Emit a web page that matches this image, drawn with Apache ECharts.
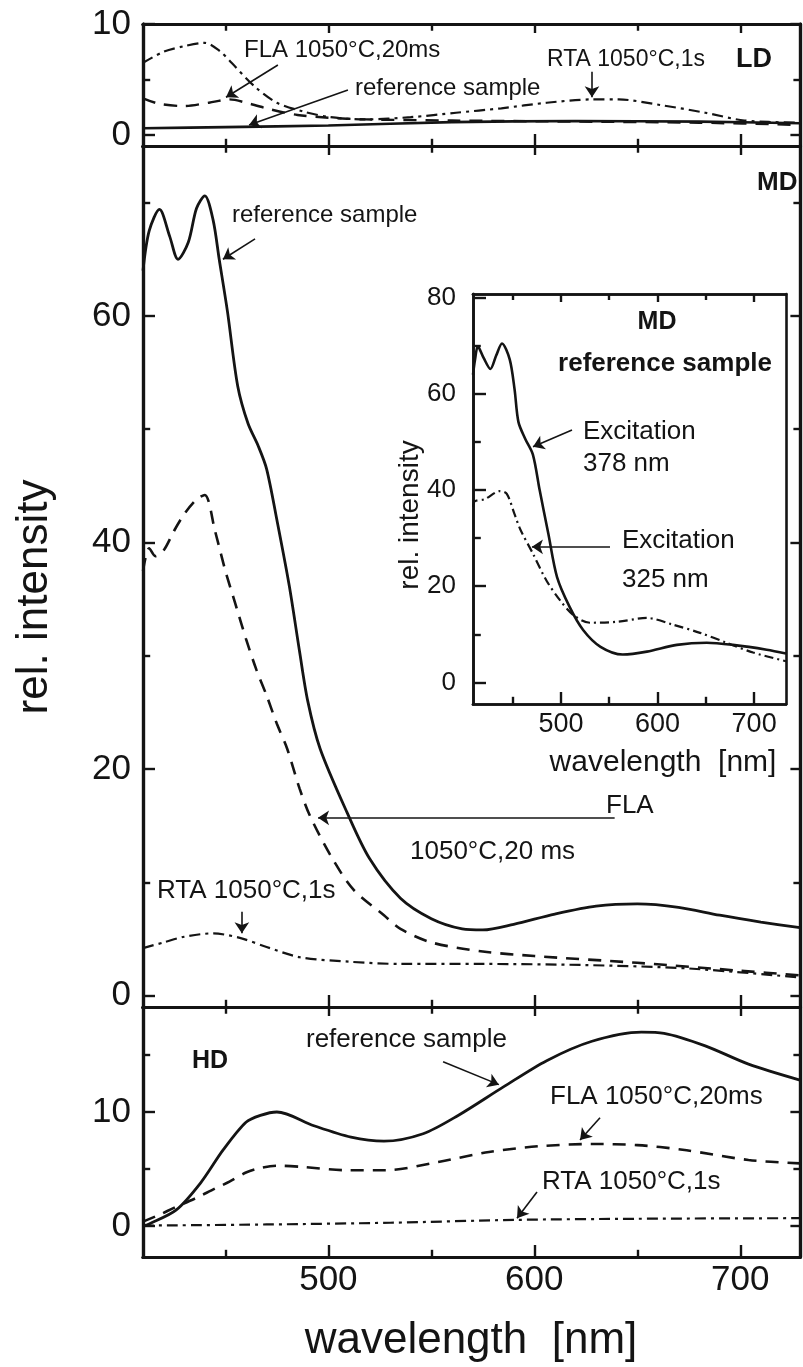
<!DOCTYPE html>
<html>
<head>
<meta charset="utf-8">
<title>rel. intensity vs wavelength</title>
<script src="https://cdn.jsdelivr.net/npm/echarts@6.0.0/dist/echarts.min.js"></script>
<style>
  html, body { margin: 0; padding: 0; background: #fff; }
  #chart { width: 803px; height: 1367px; }
</style>
</head>
<body>
<div id="chart"></div>
<script>
// ---- values (wavelength in nm, rel. intensity) ----
// LD panel
const ldRefX = [410, 450, 500, 560, 620, 680, 729];
const ldRefY = [0.6, 0.7, 0.85, 1.15, 1.25, 1.2, 1.05];
const ldFlaX = [410, 418, 430, 442, 452, 462, 472, 485, 500, 518, 560, 620, 680, 729];
const ldFlaY = [3.3, 2.8, 2.6, 2.9, 3.2, 2.8, 2.3, 1.8, 1.55, 1.4, 1.3, 1.2, 1.1, 0.9];
const ldRtaX = [410, 420, 430, 440, 447, 453, 464, 475, 488, 501, 518, 540, 562, 584, 606, 628, 641, 661, 683, 702, 729];
const ldRtaY = [6.5, 7.5, 8.0, 8.3, 7.6, 6.5, 4.4, 2.9, 2.1, 1.6, 1.4, 1.6, 2.0, 2.4, 2.9, 3.2, 3.2, 2.7, 2.0, 1.3, 1.1];

// MD panel
const mdRefX = [410, 413, 418, 423, 427, 432, 436, 440, 444, 447, 451, 456, 461, 466, 470, 475, 481, 486, 490, 496,
  509, 520, 535, 550, 565, 575, 590, 610, 630, 650, 670, 690, 710, 729];
const mdRefY = [64, 67.5, 69.4, 67, 65, 66.5, 69.5, 70.6, 68.5, 65, 60.4, 53.8, 50.5, 48.5, 46.5, 42, 36.2, 30.4, 26, 21.8,
  16.2, 12.1, 8.6, 6.8, 5.9, 5.8, 6.3, 7.2, 7.9, 8.1, 7.8, 7.1, 6.5, 6.0];
const mdFlaX = [410, 413, 416, 420, 425, 430, 436, 440, 445, 450, 455, 460, 465, 470, 475, 480, 486, 491, 501, 512,
  527, 535, 550, 575, 600, 650, 700, 729];
const mdFlaY = [37.5, 39.5, 38.8, 39.3, 41, 42.5, 43.8, 44.2, 41, 37.5, 34.5, 31.5, 28.8, 26.5, 24, 21.8, 18.3, 15.9, 12.4, 9.4,
  7.1, 5.9, 4.7, 3.9, 3.5, 2.9, 2.2, 1.8];
const mdRtaX = [410, 420, 430, 444, 457, 470, 486, 510, 535, 575, 625, 675, 729];
const mdRtaY = [4.2, 4.7, 5.2, 5.5, 5.1, 4.3, 3.4, 3.0, 2.8, 2.8, 2.7, 2.4, 1.6];

// HD panel
const hdRefX = [410, 413, 426, 438, 449, 460, 467, 475, 493, 511, 527, 546, 563, 585, 606, 628, 652, 663, 683, 704, 729];
const hdRefY = [0, 0.2, 1.4, 3.8, 6.7, 9.1, 9.7, 10.0, 8.8, 7.8, 7.45, 8.1, 9.7, 12.2, 14.5, 16.2, 17.0, 16.9, 15.8, 14.2, 12.8];
const hdFlaX = [410, 418, 425, 435, 445, 452, 460, 467, 475, 487, 509, 528, 554, 578, 602, 628, 650, 672, 704, 729];
const hdFlaY = [0.4, 1.0, 1.6, 2.4, 3.3, 3.9, 4.7, 5.1, 5.3, 5.2, 4.9, 4.9, 5.65, 6.5, 7.0, 7.2, 7.1, 6.7, 5.8, 5.5];
const hdRtaX = [410, 470, 530, 590, 650, 729];
const hdRtaY = [0.05, 0.15, 0.3, 0.55, 0.65, 0.7];

// inset: MD reference sample, two excitation wavelengths
const insExc378X = [409, 411, 414, 420, 427, 433, 439, 447, 452, 456, 463, 471, 478, 487, 496, 509, 523, 541, 564, 589, 620, 651, 678, 713, 733];
const insExc378Y = [64, 67, 69.9, 67.5, 65.2, 68, 70.5, 67.2, 61, 54.2, 50.7, 47.4, 40, 30.9, 21.9, 15.7, 10.9, 7.4, 5.8, 6.4, 7.8, 8.25, 7.8, 6.8, 6.0];
const insExc325X = [409, 411, 421, 437, 444, 452, 458, 471, 485, 499, 513, 530, 558, 589, 616, 644, 672, 699, 733];
const insExc325Y = [36.5, 37.7, 38.1, 39.8, 39.2, 35, 31.8, 26.8, 21.2, 17.1, 14.0, 12.4, 12.6, 13.4, 12.0, 10.3, 8.2, 6.2, 4.4];

// tick values
const xMajor = [500, 600, 700];
const xMinor = [450, 550, 650];
const ldYMajor = [0, 10], ldYMinor = [5];
const mdYMajor = [0, 20, 40, 60], mdYMinor = [10, 30, 50, 70];
const hdYMajor = [0, 10], hdYMinor = [5, 15];
const insYMajor = [0, 20, 40, 60, 80], insYMinor = [10, 30, 50, 70];

// ---- chart ----
const INK = '#141414';
const FONT = '"Liberation Sans", Arial, Helvetica, sans-serif';
const pairs = (xs, ys) => xs.map((x, i) => [x, ys[i]]);

const grids = [
  { left: 143, top: 24, width: 657, height: 122 },     // LD
  { left: 143, top: 146, width: 657, height: 861 },    // MD
  { left: 143, top: 1007, width: 657, height: 250 },   // HD
  { left: 473, top: 294, width: 313, height: 410, show: true, backgroundColor: '#fff', borderWidth: 0 } // inset
];

const xAxes = [];
const yAxes = [];

function axis(grid, position, range, ticks, len, lineW) {
  return {
    type: 'value', gridIndex: grid, position, min: range[0], max: range[1],
    axisLine: { show: true, onZero: false, lineStyle: { color: INK, width: lineW } },
    axisTick: { show: true, inside: true, length: len, customValues: ticks, lineStyle: { color: INK, width: 2.4 } },
    axisLabel: { show: false },
    splitLine: { show: false }
  };
}
function withLabels(ax, values, size, margin) {
  ax.axisLabel = { show: true, customValues: values, fontSize: size, fontFamily: FONT, color: INK, margin };
  return ax;
}

// builds one framed panel, returns the axis indices its series use
function panel(g, xr, yr, yMaj, yMin, o) {
  const xi = xAxes.length;
  const xb = axis(g, 'bottom', xr, xMajor, o.xLen, o.frame);
  if (o.xLabels) withLabels(xb, xMajor, o.xLabelSize, o.xMargin);
  xAxes.push(xb);
  xAxes.push(axis(g, 'bottom', xr, xMinor, o.xLen * 0.6, o.frame));
  xAxes.push(axis(g, 'top', xr, xMajor, o.topLen, o.frame));
  xAxes.push(axis(g, 'top', xr, xMinor, o.topLen * 0.75, o.frame));

  const yi = yAxes.length;
  yAxes.push(withLabels(axis(g, 'left', yr, yMaj, o.yLen, o.frame), yMaj, o.yLabelSize, o.yMargin));
  yAxes.push(axis(g, 'left', yr, yMin, o.yLen * 0.6, o.frame));
  yAxes.push(axis(g, 'right', yr, o.rightTicks ? yMaj : [], o.yLen * 0.8, o.frame));
  if (o.rightTicks) yAxes.push(axis(g, 'right', yr, yMin, o.yLen * 0.55, o.frame));
  return { xi, yi };
}

const mainOpt = { xLen: 12, topLen: 9, yLen: 12, frame: 3.2, yLabelSize: 35, yMargin: 12, rightTicks: true };
const pLD = panel(0, [410, 729], [-1, 10], ldYMajor, ldYMinor, mainOpt);
const pMD = panel(1, [410, 729], [-1, 75], mdYMajor, mdYMinor, mainOpt);
const pHD = panel(2, [410, 729], [-2.7, 19.2], hdYMajor, hdYMinor,
  Object.assign({}, mainOpt, { xLabels: true, xLabelSize: 35, xMargin: 6 }));
const pIN = panel(3, [409, 733], [-4.5, 80.8], insYMajor, insYMinor,
  { xLen: 12, topLen: 8, yLen: 13, frame: 2.6, yLabelSize: 26, yMargin: 17, xLabels: true, xLabelSize: 27, xMargin: 7, rightTicks: false });

const SOLID = 'solid';
const DASH = [13, 9];
const DASHDOT = [11, 5, 3, 5];
const DASHDOT_IN = [9, 4, 2, 4];

function arrows(list) {
  return {
    silent: true, animation: false, symbol: ['none', 'arrow'], symbolSize: 11,
    lineStyle: { color: INK, width: 1.6, type: 'solid' },
    label: { show: false },
    data: list.map(a => [{ coord: a[0] }, { coord: a[1] }])
  };
}

function line(name, data, p, dash, width, arrowList) {
  const s = {
    name, type: 'line', data, xAxisIndex: p.xi, yAxisIndex: p.yi,
    showSymbol: false, smooth: 0.3, clip: true, silent: true, animation: false, z: 3,
    lineStyle: { color: INK, width, type: dash }
  };
  if (arrowList) s.markLine = arrows(arrowList);
  return s;
}

const series = [
  line('LD reference sample', pairs(ldRefX, ldRefY), pLD, SOLID, 2.6, [[[509.5, 4.05], [461.5, 0.9]]]),
  line('LD FLA 1050°C,20ms', pairs(ldFlaX, ldFlaY), pLD, DASH, 2.4, [[[475.5, 6.3], [450.3, 3.4]]]),
  line('LD RTA 1050°C,1s', pairs(ldRtaX, ldRtaY), pLD, DASHDOT, 2.2, [[[628, 5.7], [628, 3.4]]]),

  line('MD reference sample', pairs(mdRefX, mdRefY), pMD, SOLID, 2.8, [[[464.4, 66.8], [448.8, 65.0]]]),
  line('MD FLA 1050°C,20 ms', pairs(mdFlaX, mdFlaY), pMD, DASH, 2.6, [[[639, 15.7], [495, 15.7]]]),
  line('MD RTA 1050°C,1s', pairs(mdRtaX, mdRtaY), pMD, DASHDOT, 2.2, [[[458, 7.4], [458, 5.5]]]),

  line('HD reference sample', pairs(hdRefX, hdRefY), pHD, SOLID, 2.8, [[[555.7, 14.4], [582.8, 12.4]]]),
  line('HD FLA 1050°C,20ms', pairs(hdFlaX, hdFlaY), pHD, DASH, 2.6, [[[631.9, 9.5], [622.2, 7.55]]]),
  line('HD RTA 1050°C,1s', pairs(hdRtaX, hdRtaY), pHD, DASHDOT, 2.2, [[[601.3, 3.0], [591.6, 0.7]]]),

  line('Excitation 378 nm', pairs(insExc378X, insExc378Y), pIN, SOLID, 2.6, [[[511.5, 52.5], [471.1, 49]]]),
  line('Excitation 325 nm', pairs(insExc325X, insExc325Y), pIN, DASHDOT_IN, 2.2, [[[550.8, 28.2], [470, 28.2]]])
];

function txt(text, x, y, size, o) {
  o = o || {};
  const align = o.align || 'left';
  return {
    type: 'text', x, y, rotation: o.rot || 0, silent: true, z: 20,
    style: {
      text, fontSize: size, fontFamily: FONT, fontWeight: o.bold ? 'bold' : 'normal', fill: INK,
      align, verticalAlign: 'middle', textAlign: align, textVerticalAlign: 'middle'
    }
  };
}

const graphic = [
  // axis titles
  txt('rel. intensity', 35, 597, 44, { align: 'center', rot: Math.PI / 2 }),
  txt('wavelength  [nm]', 471, 1341, 44, { align: 'center' }),
  txt('rel. intensity', 410, 515, 28, { align: 'center', rot: Math.PI / 2 }),
  txt('wavelength  [nm]', 663, 763, 30, { align: 'center' }),
  // LD
  txt('FLA 1050°C,20ms', 244, 50, 24),
  txt('reference sample', 355, 88, 24),
  txt('RTA 1050°C,1s', 547, 60, 23),
  txt('LD', 736, 60, 27, { bold: true }),
  // MD
  txt('MD', 757, 183, 26, { bold: true }),
  txt('reference sample', 232, 215, 24),
  txt('FLA', 606, 806, 26),
  txt('1050°C,20 ms', 410, 852, 26),
  txt('RTA 1050°C,1s', 157, 891, 26),
  // HD
  txt('HD', 192, 1061, 25, { bold: true }),
  txt('reference sample', 306, 1040, 26),
  txt('FLA 1050°C,20ms', 550, 1097, 26),
  txt('RTA 1050°C,1s', 542, 1182, 26),
  // inset
  txt('MD', 657, 322, 25, { bold: true, align: 'center' }),
  txt('reference sample', 665, 364, 26, { bold: true, align: 'center' }),
  txt('Excitation', 583, 432, 26),
  txt('378 nm', 583, 464, 26),
  txt('Excitation', 622, 541, 26),
  txt('325 nm', 622, 580, 26)
];

const chart = echarts.init(document.getElementById('chart'), null, { renderer: 'canvas' });
chart.setOption({
  backgroundColor: '#fff',
  animation: false,
  textStyle: { fontFamily: FONT },
  grid: grids,
  xAxis: xAxes,
  yAxis: yAxes,
  series,
  graphic
});
</script>
</body>
</html>
